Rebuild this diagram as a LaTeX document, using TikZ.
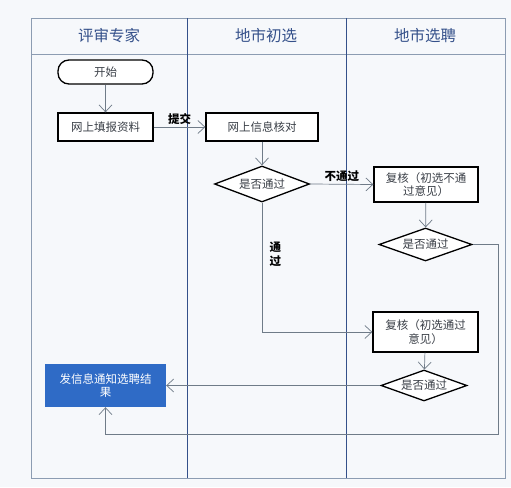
\documentclass[tikz,border=0pt]{standalone}
\usepackage{fontspec}
\newfontfamily\cjk{Noto Sans CJK SC}
\definecolor{LANEnavy}{HTML}{34508A}
\definecolor{LANEgray}{HTML}{8C9CB2}
\definecolor{LINEgray}{HTML}{6F7B88}
\definecolor{TEXTgray}{HTML}{3A3F47}
\definecolor{BOXblue}{HTML}{2F6BC6}
\definecolor{PAGEbg}{HTML}{F6F8FB}
\usetikzlibrary{arrows.meta, shapes.geometric, positioning}

\begin{document}
\begin{tikzpicture}[x=1pt, y=-1pt,
   every node/.style={font=\cjk\fontsize{11.5}{13.5}\selectfont, text=TEXTgray},
   stepbox/.style={draw=black, line width=1.3pt, fill=white, inner sep=2pt, align=center},
   decision/.style={draw=black, line width=1.3pt, fill=white, diamond, aspect=2.6, inner sep=0pt},
   flow/.style={draw=LINEgray, line width=0.7pt, -{Straight Barb[length=7pt, width=13pt]}},
   tag/.style={font=\cjk\bfseries\fontsize{11.5}{13.5}\selectfont, text=black}]
      \useasboundingbox (0,0) rectangle (511,487);
      \fill[PAGEbg] (0,0) rectangle (511,487);
      % Lanes
      \draw[LANEgray, line width=0.8pt] (31,18) rectangle (505,478);
      \draw[LANEgray, line width=0.8pt] (31,54) -- (505,54);
      \draw[LANEnavy, line width=1pt] (187,18) -- (187,478);
      \draw[LANEnavy, line width=1pt] (346,18) -- (346,478);
      \node[font=\cjk\fontsize{15.5}{18}\selectfont, text=LANEnavy] (expert) at (109,36) {评审专家};
      \node[font=\cjk\fontsize{15.5}{18}\selectfont, text=LANEnavy] (first) at (266,36) {地市初选};
      \node[font=\cjk\fontsize{15.5}{18}\selectfont, text=LANEnavy] (hire) at (425,36) {地市选聘};
      % Steps
      \node[stepbox, rounded corners=11pt, minimum width=95, minimum height=24] (start) at (105.5,72) {开始};
      \node[stepbox, minimum width=95, minimum height=28] (fill) at (105.5,127) {网上填报资料};
      \node[stepbox, minimum width=112, minimum height=28] (check) at (262,127) {网上信息核对};
      \node[decision, minimum width=95, minimum height=36] (dec1) at (262,184) {是否通过};
      \node[stepbox, minimum width=104, minimum height=35] (review1) at (426,184.5) {复核（初选不通\\过意见）};
      \node[decision, minimum width=93, minimum height=33] (dec2) at (425.5,244.5) {是否通过};
      \node[stepbox, minimum width=105, minimum height=40] (review2) at (425.5,332) {复核（初选通过\\意见）};
      \node[decision, minimum width=86, minimum height=31] (dec3) at (424,385.5) {是否通过};
      \node[fill=BOXblue, text=white, align=center, minimum width=121, minimum height=43] (result) at (105.5,385.5) {发信息通知选聘结\\果};
      \coordinate (loop) at (498,434);
      % Connectors
      \draw[flow] (start) -- (fill);
      \draw[flow] (fill) -- node[tag, above=-1pt] {提交} (check);
      \draw[flow] (check) -- (dec1);
      \draw[flow] (dec1.east) -- node[tag, above=-1pt] {不通过} (review1.west);
      \draw[flow] (review1) -- (dec2);
      \draw[flow] (dec1.south) |- node[tag, pos=0.2, right=4pt, align=center] {通\\过} (review2.west);
      \draw[flow] (review2) -- (dec3);
      \draw[flow] (dec3.west) -- (result.east);
      \draw[flow] (dec2.east) -| (loop) -| (result.south);
   \end{tikzpicture}
\end{document}
